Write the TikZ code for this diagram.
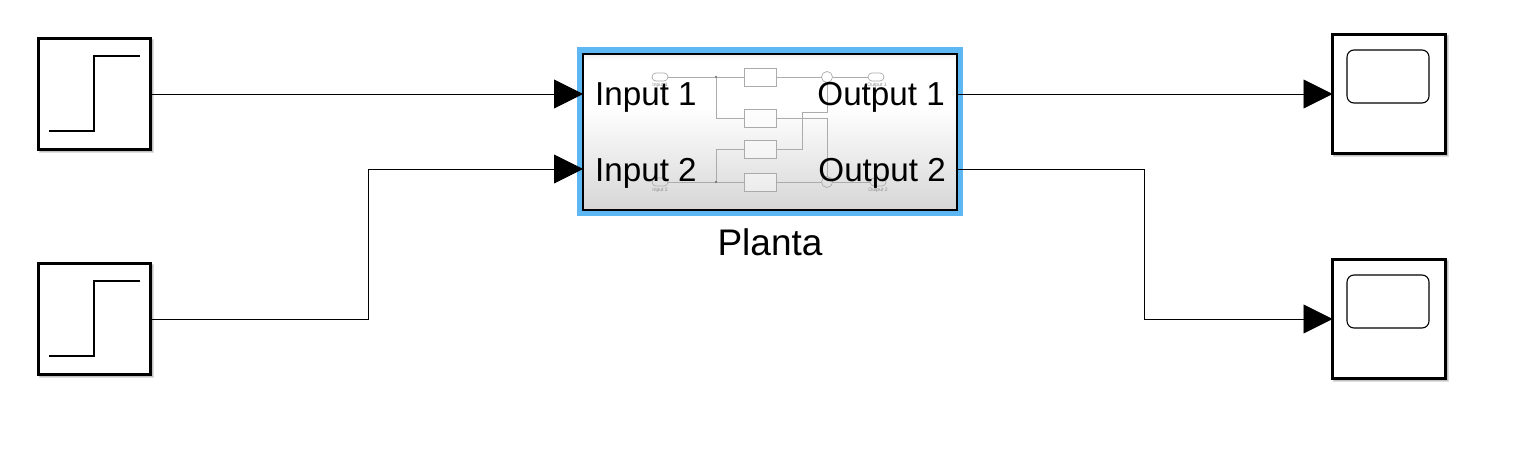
\documentclass[tikz,border=0pt]{standalone}
\usepackage{fontspec}
\setmainfont{Liberation Sans}
\usetikzlibrary{arrows.meta,calc}
\definecolor{selblue}{HTML}{5DB7F2}
\definecolor{miniline}{HTML}{ABABAB}
\definecolor{minitext}{HTML}{8C8C8C}
\pgfdeclareverticalshading{plantashade}{100bp}{color(0bp)=(black!16); color(25bp)=(black!16); color(58bp)=(white); color(73bp)=(white); color(75bp)=(black!6); color(100bp)=(black!6)}
\tikzset{
  x=1pt,y=-1pt,
  blockbox/.style={draw=black,line width=2.1pt,fill=white,rectangle,inner sep=0,outer sep=0},
  stepblock/.style={blockbox,minimum width=112pt,minimum height=111pt},
  scopeblock/.style={blockbox,minimum width=113pt,minimum height=119pt},
  screenbox/.style={draw=black,line width=1.1pt,rounded corners=7pt,rectangle,inner sep=0,minimum width=82pt,minimum height=53pt},
  wire/.style={draw=black,line width=.9pt},
  arrowwire/.style={wire,-{Triangle[length=29pt,width=29pt]}},
  steptrace/.style={draw=black,line width=1.1pt},
  portlabel/.style={font=\fontsize{33.2}{36}\selectfont,inner sep=0,text=black,anchor=base},
  namelabel/.style={font=\fontsize{37}{40}\selectfont,inner sep=0,text=black,anchor=base},
  miniblock/.style={draw=miniline,line width=.7pt,fill=white,fill opacity=.45,text opacity=1,rectangle,inner sep=0,minimum width=32pt,minimum height=18pt,outer sep=0},
  minioval/.style={draw=miniline,line width=.7pt,rounded corners=4pt,rectangle,inner sep=0,minimum width=16pt,minimum height=8pt,outer sep=0},
  minisum/.style={draw=miniline,line width=.7pt,circle,inner sep=0,minimum size=11pt,outer sep=0},
  miniwire/.style={draw=miniline,line width=.7pt},
  minidot/.style={fill=black!65,circle,inner sep=0,minimum size=2.4pt},
  minilabel/.style={font=\fontsize{5}{6}\selectfont,text=minitext,inner sep=0},
}
\begin{document}
\begin{tikzpicture}
\useasboundingbox[fill=white] (0,0) rectangle (1519,463);

% soft shadows
\foreach \dx in {3,2,1}{
  \fill[black,opacity=.13] (38+\dx,38+\dx) rectangle (155-\dx,154-\dx);
  \fill[black,opacity=.13] (38+\dx,263+\dx) rectangle (155-\dx,379-\dx);
  \fill[black,opacity=.13] (1332+\dx,34+\dx) rectangle (1450-\dx,158-\dx);
  \fill[black,opacity=.13] (1332+\dx,259+\dx) rectangle (1450-\dx,383-\dx);
}

% selection frame and subsystem
\node[rectangle,fill=selblue,inner sep=0,minimum width=386pt,minimum height=169pt] (plantasel) at (770,131.5) {};
\node[rectangle,draw=black,line width=2.4pt,shading=plantashade,inner sep=0,outer sep=0,minimum width=374pt,minimum height=156pt] (planta) at (770,132) {};
\coordinate (in1) at (planta.west |- 0,94);
\coordinate (in2) at (planta.west |- 0,169);
\coordinate (out1) at (planta.east |- 0,94);
\coordinate (out2) at (planta.east |- 0,169);

% mini diagram inside the subsystem
\node[minioval] (mi1) at (660,77) {};
\node[minioval] (mi2) at (660,182) {};
\node[minioval] (mo1) at (876,77) {};
\node[minioval] (mo2) at (878,182) {};
\node[miniblock] (b1) at (760,77) {};
\node[miniblock] (b2) at (760,118) {};
\node[miniblock] (b3) at (760,149) {};
\node[miniblock] (b4) at (760,182) {};
\node[minisum] (s1) at (827,77) {};
\node[minisum] (s2) at (827,182) {};
\node[minidot] (d1) at (716,77) {};
\node[minidot] (d2) at (716,182) {};
\coordinate (cross) at (802,112);
\draw[miniwire] (mi1) -- (d1) -- (b1);
\draw[miniwire] (mi2) -- (d2) -- (b4);
\draw[miniwire] (d1) |- (b2);
\draw[miniwire] (d2) |- (b3);
\draw[miniwire] (b1) -- (s1);
\draw[miniwire] (s1) -- (mo1);
\draw[miniwire] (b4) -- (s2);
\draw[miniwire] (s2) -- (mo2);
\draw[miniwire] (b2.east) -| (s2.north);
\draw[miniwire] (b3.east) -| (cross) -| (s1.south);
\node[minilabel] (li1) at (660,85.5) {Input 1};
\node[minilabel] (li2) at (660,190) {Input 2};
\node[minilabel] (lo1) at (877,85.5) {Output 1};
\node[minilabel] (lo2) at (878,190) {Output 2};

% port labels
\node[portlabel,anchor=base west] (tin1) at (595,105.5) {Input 1};
\node[portlabel,anchor=base west] (tin2) at (595,181) {Input 2};
\node[portlabel,anchor=base east] (tout1) at (945,105.5) {Output 1};
\node[portlabel,anchor=base east] (tout2) at (946,181) {Output 2};
\node[namelabel] (name) at (770,255) {Planta};

% source blocks
\node[stepblock] (step1) at (94.5,94) {};
\node[stepblock] (step2) at (94.5,319) {};
\draw[steptrace] (49,131) -- (94,131) -- (94,56) -- (140,56);
\draw[steptrace] (49,356) -- (94,356) -- (94,281) -- (140,281);

% scope blocks
\node[scopeblock] (scope1) at (1389,94) {};
\node[scopeblock] (scope2) at (1389,319) {};
\node[screenbox] (screen1) at (1388,76.5) {};
\node[screenbox] (screen2) at (1388,301.5) {};

% connectors
\coordinate (bend1) at (368.5,319);
\coordinate (bend2) at (1144.5,169);
\draw[arrowwire] (step1.east) -- (in1);
\draw[arrowwire] (step2.east) -- (bend1) |- (in2);
\draw[arrowwire] (out1) -- (scope1.west);
\draw[arrowwire] (out2) -- (bend2) |- (scope2.west);
\end{tikzpicture}
\end{document}
